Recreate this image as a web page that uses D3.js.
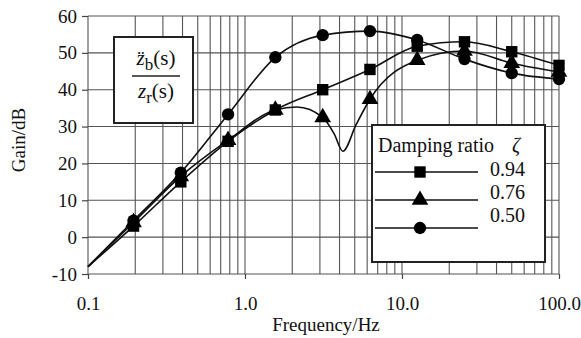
<!DOCTYPE html>
<html>
<head>
<meta charset="utf-8">
<script src="https://cdn.jsdelivr.net/npm/d3@7"></script>
<style>
  body { margin: 0; background: #fff; }
  svg { font-family: "Liberation Serif", "Times New Roman", serif; }
</style>
</head>
<body>
<svg id="chart" width="581" height="338"></svg>
<script>
// marker frequencies (Hz) and gains (dB) per damping ratio
const freqs = [0.195, 0.39, 0.78, 1.56, 3.125, 6.25, 12.5, 25, 50, 100];
const gain094 = [3, 15, 26, 34.5, 40, 45.5, 51.8, 53, 50.3, 46.6];
const gain076 = [4, 16.5, 26.3, 34.5, 32.5, 37.4, 48, 50.5, 47.2, 44.8];
const gain050 = [4.5, 17.5, 33.3, 48.8, 54.8, 55.9, 53.5, 48.3, 44.5, 42.9];

// extra curve points (start of curves, the 0.76 dip)
const startPoint = [0.1, -8];
const dip076 = [[2.14, 35.3], [3.7, 28], [4.2, 23.3], [5.1, 30.5]];

const ratios = ["0.94", "0.76", "0.50"];
const symbols = [d3.symbolSquare, d3.symbolTriangle, d3.symbolCircle];
const yTicks = [-10, 0, 10, 20, 30, 40, 50, 60];
const xTicks = [0.1, 1, 10, 100];

const svg = d3.select("#chart");
const x = d3.scaleLog().domain([0.1, 100]).range([88, 559]);
const y = d3.scaleLinear().domain([-10, 60]).range([274, 16]);

// grid
const grid = svg.append("g").attr("stroke", "#555").attr("stroke-width", 1.1);
const minors = [];
[0.1, 1, 10].forEach(d => { for (let k = 1; k <= 9; k++) minors.push(d * k); });
minors.push(100);
grid.selectAll(".v").data(minors).join("line")
  .attr("x1", d => x(d)).attr("x2", d => x(d))
  .attr("y1", y(-10)).attr("y2", y(60));
grid.selectAll(".h").data(yTicks).join("line")
  .attr("x1", x(0.1)).attr("x2", x(100))
  .attr("y1", d => y(d)).attr("y2", d => y(d));

// axes
const yAxis = svg.append("g").attr("transform", `translate(${x(0.1)},0)`)
  .call(d3.axisLeft(y).tickValues(yTicks).tickSize(6).tickPadding(5).tickFormat(d => String(d)));
const xAxis = svg.append("g").attr("transform", `translate(0,${y(-10)})`)
  .call(d3.axisBottom(x).tickValues(xTicks).tickSize(5).tickPadding(18).tickFormat(d3.format(".1f")));
[yAxis, xAxis].forEach(a => {
  a.select(".domain").remove();
  a.selectAll("line").attr("stroke", "#444").attr("stroke-width", 1.2);
  a.selectAll("text").attr("font-family", "Liberation Serif").attr("font-size", 19).attr("fill", "#111");
});

svg.append("text").attr("x", 326).attr("y", 331).attr("text-anchor", "middle")
  .attr("font-size", 19).attr("fill", "#111").text("Frequency/Hz");
svg.append("text").attr("transform", "translate(25,140) rotate(-90)").attr("text-anchor", "middle")
  .attr("font-size", 19).attr("fill", "#111").text("Gain/dB");

// curves
const series = [gain094, gain076, gain050].map(g => freqs.map((f, i) => [f, g[i]]));
const linePts = series.map((s, i) => {
  let pts = [startPoint].concat(s);
  if (i === 1) pts = pts.concat(dip076);
  return pts.sort((a, b) => a[0] - b[0]);
});
const line = d3.line().x(d => x(d[0])).y(d => y(d[1])).curve(d3.curveMonotoneX);
svg.append("g").selectAll("path").data(linePts).join("path")
  .attr("d", line).attr("fill", "none").attr("stroke", "#111").attr("stroke-width", 1.6);

// markers
const sizes = [130, 120, 120];
series.forEach((s, i) => {
  svg.append("g").selectAll("path").data(s).join("path")
    .attr("transform", d => `translate(${x(d[0])},${y(d[1])})`)
    .attr("d", d3.symbol(symbols[i], sizes[i]))
    .attr("fill", "#000");
});

// formula box
const fb = svg.append("g");
fb.append("rect").attr("x", 114).attr("y", 37).attr("width", 79).attr("height", 86)
  .attr("fill", "#fff").attr("stroke", "#222").attr("stroke-width", 2);
fb.append("line").attr("x1", 132).attr("x2", 180).attr("y1", 76).attr("y2", 76)
  .attr("stroke", "#222").attr("stroke-width", 1.3);
const num = fb.append("text").attr("x", 156).attr("y", 65).attr("text-anchor", "middle").attr("font-size", 21).attr("fill", "#111");
num.append("tspan").attr("font-style", "italic").text("z\u0308");
num.append("tspan").attr("dy", 5).attr("font-size", 17).text("b");
num.append("tspan").attr("dy", -5).text("(s)");
const den = fb.append("text").attr("x", 156).attr("y", 98).attr("text-anchor", "middle").attr("font-size", 21).attr("fill", "#111");
den.append("tspan").attr("font-style", "italic").text("z");
den.append("tspan").attr("dy", 5).attr("font-size", 17).text("r");
den.append("tspan").attr("dy", -5).text("(s)");

// legend
const lg = svg.append("g");
lg.append("rect").attr("x", 372).attr("y", 125).attr("width", 173).attr("height", 137)
  .attr("fill", "#fff").attr("stroke", "#222").attr("stroke-width", 2);
lg.append("text").attr("x", 378).attr("y", 152).attr("font-size", 20).attr("fill", "#111").text("Damping ratio");
lg.append("text").attr("x", 512).attr("y", 152).attr("font-size", 20).attr("font-style", "italic").attr("fill", "#111").text("\u03B6");
ratios.forEach((r, i) => {
  const ly = 172 + i * 28;
  lg.append("line").attr("x1", 375).attr("x2", 478).attr("y1", ly).attr("y2", ly)
    .attr("stroke", "#111").attr("stroke-width", 1.6);
  lg.append("path").attr("transform", `translate(420,${ly})`)
    .attr("d", d3.symbol(symbols[i], sizes[i])).attr("fill", "#000");
  lg.append("text").attr("x", 490).attr("y", ly + 4 - i * 5).attr("font-size", 20).attr("fill", "#111").text(r);
});
</script>
</body>
</html>
